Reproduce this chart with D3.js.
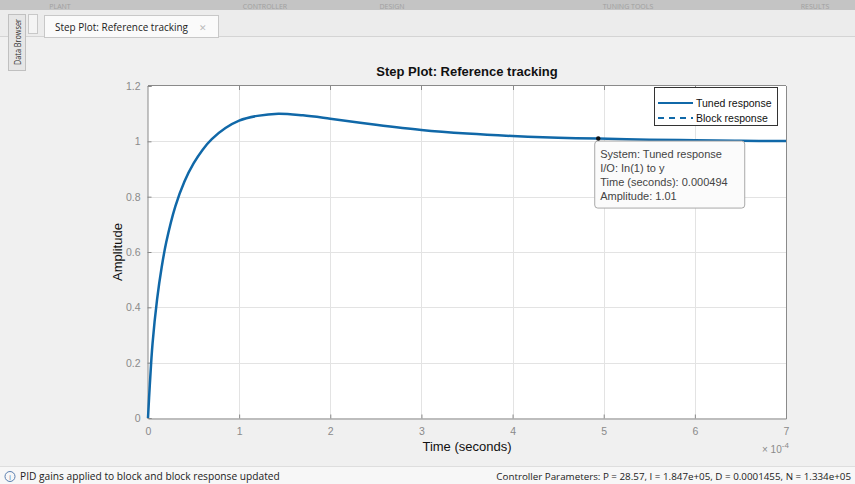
<!DOCTYPE html>
<html>
<head>
<meta charset="utf-8">
<script src="https://cdn.jsdelivr.net/npm/d3@7"></script>
<style>
  body { margin: 0; background: #f0f0f0; }
  svg { display: block; }
</style>
</head>
<body>
<svg id="chart" width="855" height="484"></svg>
<script>
// step response (time in units of 1e-4 s)
var timeVals = [0, 0.02, 0.05, 0.1, 0.15, 0.2, 0.3, 0.4, 0.5, 0.6, 0.7, 0.85, 1.0, 1.2, 1.43, 1.7, 2.0, 2.5, 3.0, 3.5, 4.0, 4.5, 4.94, 5.5, 6.0, 6.5, 7.0];
var amplitudeVals = [0, 0.12, 0.27, 0.43, 0.545, 0.635, 0.765, 0.855, 0.92, 0.97, 1.008, 1.048, 1.075, 1.092, 1.100, 1.094, 1.082, 1.06, 1.041, 1.028, 1.019, 1.013, 1.01, 1.006, 1.004, 1.002, 1.001];
var xTicks = [0, 1, 2, 3, 4, 5, 6, 7];
var yTicks = [0, 0.2, 0.4, 0.6, 0.8, 1, 1.2];
var legendLabels = ['Tuned response', 'Block response'];
var tipLines = ['System: Tuned response', 'I/O: In(1) to y', 'Time (seconds): 0.000494', 'Amplitude: 1.01'];
var tipTime = 4.94, tipAmp = 1.01;

var svg = d3.select('#chart');
var font = 'Liberation Sans, Arial, sans-serif';
var uiFont = 'Open Sans, Noto Sans, sans-serif';

// --- app chrome ---
var chrome = svg.append('g');
chrome.append('rect').attr('x', 0).attr('y', 0).attr('width', 855).attr('height', 10).attr('fill', '#c4c4c4');
[['PLANT', 60], ['CONTROLLER', 265], ['DESIGN', 392], ['TUNING TOOLS', 628], ['RESULTS', 815]].forEach(function(d) {
  chrome.append('text').attr('x', d[1]).attr('y', 8.5).attr('text-anchor', 'middle')
    .attr('font-family', uiFont).attr('font-size', 7).attr('fill', '#a0a0a0').text(d[0]);
});
chrome.append('rect').attr('x', 0).attr('y', 10).attr('width', 855).attr('height', 26).attr('fill', '#ececec');
chrome.append('line').attr('x1', 0).attr('x2', 855).attr('y1', 36.5).attr('y2', 36.5).attr('stroke', '#d4d4d4');
// gripper
chrome.append('rect').attr('x', 28.5).attr('y', 14.5).attr('width', 9).attr('height', 19).attr('fill', '#f4f4f4').attr('stroke', '#c8c8c8');
// plot tab
chrome.append('rect').attr('x', 44.5).attr('y', 15.5).attr('width', 174).attr('height', 22).attr('fill', '#fafafa').attr('stroke', '#c8c8c8');
chrome.append('text').attr('x', 55).attr('y', 31).attr('font-family', uiFont).attr('font-size', 10.5).attr('fill', '#222')
  .attr('textLength', 133).attr('lengthAdjust', 'spacingAndGlyphs').text('Step Plot: Reference tracking');
chrome.append('text').attr('x', 199).attr('y', 31).attr('font-family', uiFont).attr('font-size', 9).attr('fill', '#bbb').text('\u2715');
// data browser side tab
chrome.append('rect').attr('x', 8.5).attr('y', 14.5).attr('width', 17).attr('height', 56).attr('fill', '#e6e6e6').attr('stroke', '#c0c0c0');
chrome.append('text').attr('transform', 'translate(20.5,42) rotate(-90)').attr('text-anchor', 'middle')
  .attr('font-family', uiFont).attr('font-size', 9).attr('fill', '#333')
  .attr('textLength', 46).attr('lengthAdjust', 'spacingAndGlyphs').text('Data Browser');

// status bar
svg.append('rect').attr('x', 0).attr('y', 467).attr('width', 855).attr('height', 17).attr('fill', '#f7f7f7');
svg.append('line').attr('x1', 0).attr('x2', 855).attr('y1', 466.5).attr('y2', 466.5).attr('stroke', '#dedede');
svg.append('circle').attr('cx', 10).attr('cy', 476.5).attr('r', 5).attr('fill', 'none').attr('stroke', '#5a7fb0');
svg.append('text').attr('x', 10).attr('y', 479.5).attr('text-anchor', 'middle').attr('font-family', uiFont)
  .attr('font-size', 8).attr('fill', '#5a7fb0').text('i');
svg.append('text').attr('x', 20).attr('y', 480).attr('font-family', uiFont).attr('font-size', 10.2).attr('fill', '#222')
  .text('PID gains applied to block and block response updated');
svg.append('text').attr('x', 851).attr('y', 480).attr('text-anchor', 'end').attr('font-family', uiFont).attr('font-size', 9.8).attr('fill', '#222')
  .text('Controller Parameters: P = 28.57, I = 1.847e+05, D = 0.0001455, N = 1.334e+05');

// --- axes ---
var x = d3.scaleLinear().domain([0, 7]).range([148, 786]);
var y = d3.scaleLinear().domain([0, 1.2]).range([418, 86]);

var plot = svg.append('g');
plot.append('rect').attr('x', x(0)).attr('y', y(1.2)).attr('width', x(7) - x(0)).attr('height', y(0) - y(1.2)).attr('fill', '#fff');

// grid
plot.selectAll('.gx').data(xTicks.slice(1, -1)).enter().append('line')
  .attr('x1', function(d) { return Math.round(x(d)) + 0.5; }).attr('x2', function(d) { return Math.round(x(d)) + 0.5; })
  .attr('y1', y(0)).attr('y2', y(1.2)).attr('stroke', '#e3e3e3');
plot.selectAll('.gy').data(yTicks.slice(1, -1)).enter().append('line')
  .attr('y1', function(d) { return Math.round(y(d)) + 0.5; }).attr('y2', function(d) { return Math.round(y(d)) + 0.5; })
  .attr('x1', x(0)).attr('x2', x(7)).attr('stroke', '#e3e3e3');

var xAxis = d3.axisBottom(x).tickValues(xTicks).tickSize(-4).tickPadding(9).tickFormat(d3.format('d'));
var yAxis = d3.axisLeft(y).tickValues(yTicks).tickSize(-4).tickPadding(7).tickFormat(function(d) { return d === 0 || d === 1 ? d : d3.format('.1f')(d); });
var gx = plot.append('g').attr('transform', 'translate(0,' + (y(0) + 0.5) + ')').call(xAxis);
var gy = plot.append('g').attr('transform', 'translate(' + (x(0) - 0.5) + ',0)').call(yAxis);
[gx, gy].forEach(function(g) {
  g.select('.domain').attr('stroke', '#8a8a8a');
  g.selectAll('.tick line').attr('stroke', '#8a8a8a');
  g.selectAll('.tick text').attr('fill', '#8a8a8a').attr('font-family', font).attr('font-size', 10.5);
});
// top and right sides of the box
plot.append('line').attr('x1', x(0)).attr('x2', x(7)).attr('y1', y(1.2) - 0.5).attr('y2', y(1.2) - 0.5).attr('stroke', '#8a8a8a');
plot.append('line').attr('x1', x(7) + 0.5).attr('x2', x(7) + 0.5).attr('y1', y(0)).attr('y2', y(1.2)).attr('stroke', '#8a8a8a');
plot.selectAll('.tt').data(xTicks.slice(1, -1)).enter().append('line')
  .attr('x1', function(d) { return Math.round(x(d)) + 0.5; }).attr('x2', function(d) { return Math.round(x(d)) + 0.5; })
  .attr('y1', y(1.2)).attr('y2', y(1.2) + 4).attr('stroke', '#8a8a8a');

// exponent label
plot.append('text').attr('x', 762).attr('y', 453).attr('font-family', font).attr('font-size', 10).attr('fill', '#8a8a8a')
  .text('\u00d7 10').append('tspan').attr('dy', -5).attr('font-size', 8).text('-4');

// titles
svg.append('text').attr('x', 467).attr('y', 76).attr('text-anchor', 'middle').attr('font-family', font)
  .attr('font-size', 13).attr('font-weight', 'bold').attr('fill', '#111').text('Step Plot: Reference tracking');
svg.append('text').attr('x', 467).attr('y', 451).attr('text-anchor', 'middle').attr('font-family', font)
  .attr('font-size', 13).attr('fill', '#111').text('Time (seconds)');
svg.append('text').attr('transform', 'translate(122,252) rotate(-90)').attr('text-anchor', 'middle').attr('font-family', font)
  .attr('font-size', 13).attr('fill', '#111').text('Amplitude');

// response line
var line = d3.line().x(function(d, i) { return x(timeVals[i]); }).y(function(d) { return y(d); }).curve(d3.curveCatmullRom.alpha(0.5));
plot.append('path').datum(amplitudeVals).attr('d', line).attr('fill', 'none').attr('stroke', '#1068a8').attr('stroke-width', 2.5);

// legend
var lg = plot.append('g');
lg.append('rect').attr('x', 654.5).attr('y', 87.5).attr('width', 123).attr('height', 38).attr('fill', '#fff').attr('stroke', '#333');
legendLabels.forEach(function(lbl, i) {
  var ly = 103 + i * 15;
  lg.append('line').attr('x1', 658).attr('x2', 693).attr('y1', ly).attr('y2', ly)
    .attr('stroke', '#1068a8').attr('stroke-width', 2.2).attr('stroke-dasharray', i === 1 ? '6,5' : null);
  lg.append('text').attr('x', 696).attr('y', ly + 4).attr('font-family', font).attr('font-size', 10.5).attr('fill', '#111').text(lbl);
});

// data tip
var tx = x(tipTime), ty = y(tipAmp);
var tip = plot.append('g');
tip.append('rect').attr('x', tx - 3.5).attr('y', ty + 2.5).attr('width', 150).attr('height', 67).attr('rx', 3)
  .attr('fill', '#fbfbfb').attr('stroke', '#a8a8a8');
tipLines.forEach(function(t, i) {
  tip.append('text').attr('x', tx + 2).attr('y', ty + 19 + i * 14.3).attr('font-family', font).attr('font-size', 11)
    .attr('fill', '#444').text(t);
});
tip.append('circle').attr('cx', tx).attr('cy', ty).attr('r', 2.2).attr('fill', '#111');
</script>
</body>
</html>
